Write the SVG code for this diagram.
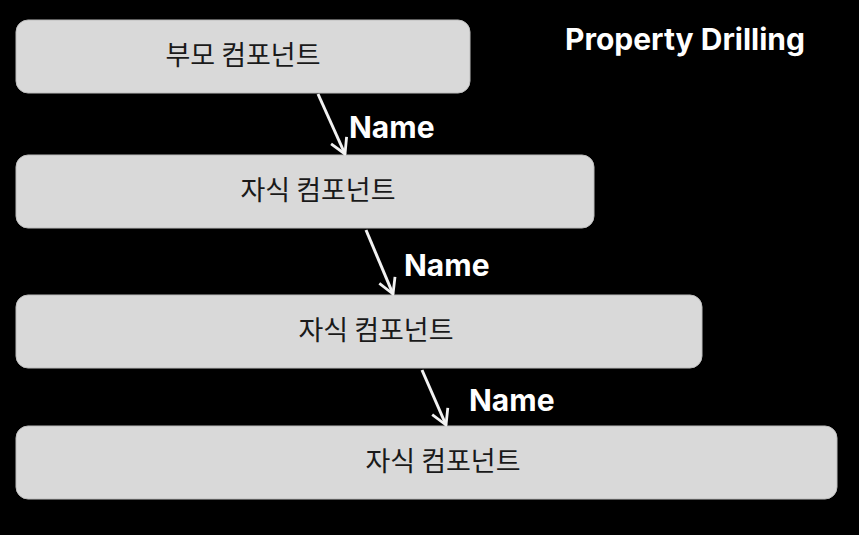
<svg xmlns="http://www.w3.org/2000/svg" width="859" height="535" viewBox="0 0 859 535">
<style>
.box{fill:#d9d9d9;stroke:#bdbdbd;stroke-width:1}
.bt{font-family:"Noto Sans CJK KR","Noto Sans",sans-serif;font-size:27px;fill:#1a1a1a;text-anchor:middle}
.lbl{font-family:Inter,"Liberation Sans",sans-serif;font-weight:bold;font-size:30px;fill:#ffffff}
.conn{stroke:#f2f2f2;stroke-width:3;fill:none}
</style>
<defs>
<marker id="ah" viewBox="0 0 20 20" refX="18" refY="10" markerWidth="20" markerHeight="20" markerUnits="userSpaceOnUse" orient="auto">
<path d="M3,1.5 L18,10 L3,18.5" fill="none" stroke="#f2f2f2" stroke-width="2.8" stroke-linejoin="round"/>
</marker>
</defs>
<rect width="859" height="535" fill="#000"/>
<text class="lbl" x="565" y="50">Property Drilling</text>
<g id="parent"><rect class="box" x="16" y="20" width="454" height="73" rx="12"/><text class="bt" x="243" y="65">부모 컴포넌트</text></g>
<g id="child1"><rect class="box" x="16" y="155" width="578" height="73" rx="12"/><text class="bt" x="318" y="200">자식 컴포넌트</text></g>
<g id="child2"><rect class="box" x="16" y="295" width="686" height="73" rx="12"/><text class="bt" x="376" y="340">자식 컴포넌트</text></g>
<g id="child3"><rect class="box" x="16" y="426" width="821" height="73" rx="12"/><text class="bt" x="443" y="471">자식 컴포넌트</text></g>
<g id="connectors">
<line class="conn" x1="318" y1="94" x2="345" y2="154" marker-end="url(#ah)"/>
<line class="conn" x1="366" y1="230" x2="393" y2="294" marker-end="url(#ah)"/>
<line class="conn" x1="422" y1="370" x2="446" y2="425" marker-end="url(#ah)"/>
<text class="lbl" x="349" y="138">Name</text>
<text class="lbl" x="404" y="276">Name</text>
<text class="lbl" x="469" y="411">Name</text>
</g>
</svg>
